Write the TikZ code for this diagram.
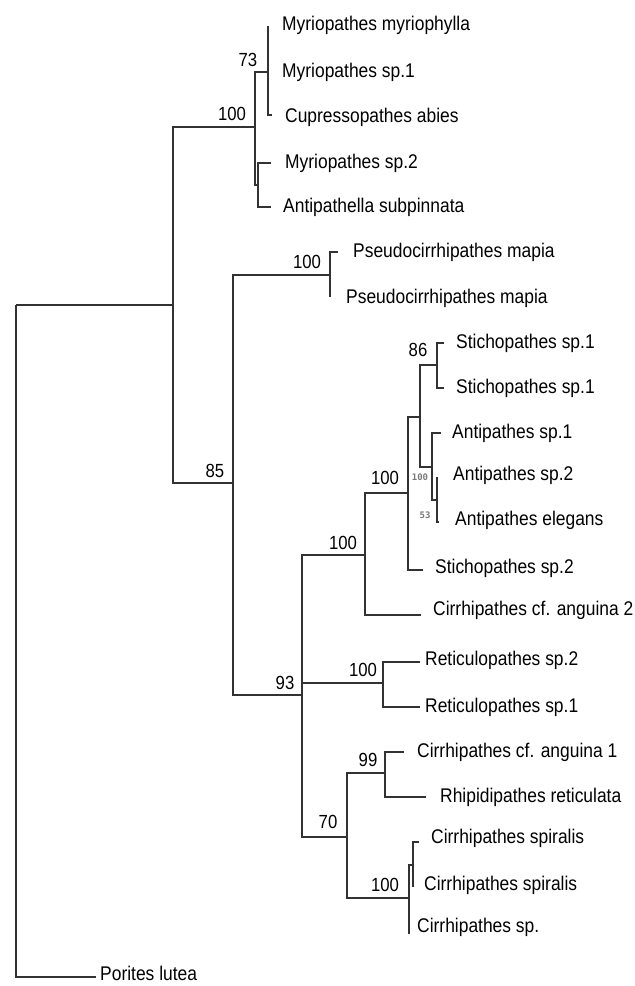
\documentclass[tikz,border=0pt]{standalone}
\usepackage{fontspec}
\setmainfont{Liberation Sans}[FakeStretch=0.88]
\newfontfamily\tinyfont{DejaVu Sans Mono}
\usepackage{xcolor}
\definecolor{branchgray}{RGB}{50, 50, 50}
\definecolor{faintgray}{RGB}{120, 120, 120}

\tikzset{
    branch/.style={draw=branchgray, line width=2.4pt},
    taxon/.style={anchor=west, inner sep=0pt, font=\fontsize{19.8}{21}\selectfont},
    support/.style={inner sep=0pt, font=\fontsize{19}{20}\selectfont},
    faint/.style={inner sep=0pt, text=faintgray, font=\tinyfont\bfseries\fontsize{9}{10}\selectfont}
}

\begin{document}
\begin{tikzpicture}[x=1pt, y=-1pt]
    \useasboundingbox (0,0) rectangle (635,986);

    % Internal nodes
    \coordinate (root) at (16,305);
    \coordinate (nA) at (173,305);
    \coordinate (nB) at (255,127);
    \coordinate (nC) at (268,72);
    \coordinate (nD) at (258,185);
    \coordinate (nE) at (233,483);
    \coordinate (nF) at (330,275);
    \coordinate (nG) at (302,695);
    \coordinate (nH) at (365,555);
    \coordinate (nI) at (408,493);
    \coordinate (nJ) at (420,417);
    \coordinate (nK) at (437,365);
    \coordinate (nL) at (432,467);
    \coordinate (nM) at (437,500);
    \coordinate (nN) at (383,683);
    \coordinate (nO) at (347,837);
    \coordinate (nP) at (385,773);
    \coordinate (nQ) at (409,898);
    \coordinate (nR) at (413,865);

    % Leaf tips
    \coordinate (tMyrA) at (269,27);
    \coordinate (tCup) at (272,115);
    \coordinate (tMyrB) at (271,163);
    \coordinate (tAntp) at (271,207);
    \coordinate (tPsA) at (338,252);
    \coordinate (tPsB) at (330,297);
    \coordinate (tStA) at (444,343);
    \coordinate (tStB) at (444,388);
    \coordinate (tAnA) at (441,433);
    \coordinate (tAnB) at (438,478);
    \coordinate (tAnE) at (439,522);
    \coordinate (tStC) at (423,570);
    \coordinate (tCiA) at (421,615);
    \coordinate (tReA) at (420,662);
    \coordinate (tReB) at (420,707);
    \coordinate (tCiB) at (404,752);
    \coordinate (tRhi) at (426,797);
    \coordinate (tSpA) at (419,842);
    \coordinate (tSpB) at (413,887);
    \coordinate (tCsp) at (410,933);
    \coordinate (tPor) at (96,977);

    % Branches
    \draw[branch] (root) |- (nA) (root) |- (tPor);
    \draw[branch] (nA) |- (nB) (nA) |- (nE);
    \draw[branch] (nB) |- (nC) (nB) |- (nD);
    \draw[branch] (nC) |- (tMyrA) (nC) |- (tCup);
    \draw[branch] (nD) |- (tMyrB) (nD) |- (tAntp);
    \draw[branch] (nE) |- (nF) (nE) |- (nG);
    \draw[branch] (nF) |- (tPsA) (nF) |- (tPsB);
    \draw[branch] (nG) |- (nH) (nG) |- (nN) (nG) |- (nO);
    \draw[branch] (nH) |- (nI) (nH) |- (tCiA);
    \draw[branch] (nI) |- (nJ) (nI) |- (tStC);
    \draw[branch] (nJ) |- (nK) (nJ) |- (nL);
    \draw[branch] (nK) |- (tStA) (nK) |- (tStB);
    \draw[branch] (nL) |- (tAnA) (nL) |- (nM);
    \draw[branch] (nM) |- (tAnB) (nM) |- (tAnE);
    \draw[branch] (nN) |- (tReA) (nN) |- (tReB);
    \draw[branch] (nO) |- (nP) (nO) |- (nQ);
    \draw[branch] (nP) |- (tCiB) (nP) |- (tRhi);
    \draw[branch] (nQ) |- (nR) (nQ) |- (tCsp);
    \draw[branch] (nR) |- (tSpA) (nR) |- (tSpB);

    % Taxa
    \node[taxon] (myrA) at (282,25) {Myriopathes myriophylla};
    \node[taxon] (myrS) at (282,72) {Myriopathes sp.1};
    \node[taxon] (cup) at (285,117) {Cupressopathes abies};
    \node[taxon] (myrB) at (285,163) {Myriopathes sp.2};
    \node[taxon] (antp) at (283,207) {Antipathella subpinnata};
    \node[taxon] (psA) at (353,252) {Pseudocirrhipathes mapia};
    \node[taxon] (psB) at (346,298) {Pseudocirrhipathes mapia};
    \node[taxon] (stA) at (456,343) {Stichopathes sp.1};
    \node[taxon] (stB) at (456,388) {Stichopathes sp.1};
    \node[taxon] (anA) at (452,433) {Antipathes sp.1};
    \node[taxon] (anB) at (453,475) {Antipathes sp.2};
    \node[taxon] (anE) at (455,520) {Antipathes elegans};
    \node[taxon] (stC) at (435,568) {Stichopathes sp.2};
    \node[taxon] (ciA) at (433,610) {Cirrhipathes cf. anguina 2};
    \node[taxon] (reA) at (425,660) {Reticulopathes sp.2};
    \node[taxon] (reB) at (425,707) {Reticulopathes sp.1};
    \node[taxon] (ciB) at (417,752) {Cirrhipathes cf. anguina 1};
    \node[taxon] (rhi) at (440,797) {Rhipidipathes reticulata};
    \node[taxon] (spA) at (431,838) {Cirrhipathes spiralis};
    \node[taxon] (spB) at (424,885) {Cirrhipathes spiralis};
    \node[taxon] (csp) at (417,927) {Cirrhipathes sp.};
    \node[taxon] (por) at (100,973) {Porites lutea};

    % Support values
    \node[support] (bsC) at (248,60) {73};
    \node[support] (bsB) at (232,114) {100};
    \node[support] (bsF) at (307,262) {100};
    \node[support] (bsE) at (215,471) {85};
    \node[support] (bsK) at (418,350) {86};
    \node[support] (bsI) at (385,478) {100};
    \node[faint] (bsL) at (420,477) {100};
    \node[faint] (bsM) at (425,515) {53};
    \node[support] (bsH) at (343,543) {100};
    \node[support] (bsG) at (285,683) {93};
    \node[support] (bsN) at (363,670) {100};
    \node[support] (bsP) at (368,760) {99};
    \node[support] (bsO) at (328,822) {70};
    \node[support] (bsQ) at (385,885) {100};
\end{tikzpicture}
\end{document}
